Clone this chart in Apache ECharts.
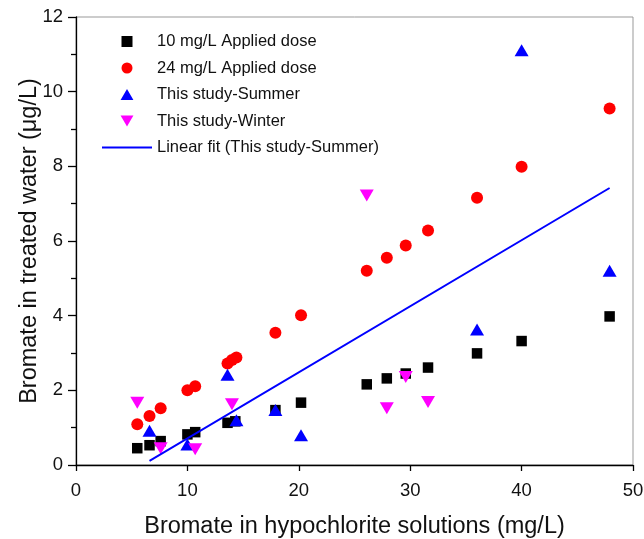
<!DOCTYPE html>
<html>
<head>
<meta charset="utf-8">
<script src="https://cdn.jsdelivr.net/npm/echarts@6/dist/echarts.min.js"></script>
<style>html,body{margin:0;padding:0;background:#fff}#c{width:644px;height:539px}</style>
</head>
<body>
<div id="c"></div>
<script>
// 10 mg/L Applied dose
const dose10X = [5.5, 6.6, 7.6, 10.0, 10.7, 13.6, 14.3, 17.9, 20.2, 26.1, 27.9, 29.6, 31.6, 36.0, 40.0, 47.9];
const dose10Y = [0.45, 0.53, 0.64, 0.82, 0.88, 1.13, 1.17, 1.47, 1.67, 2.16, 2.32, 2.45, 2.61, 2.99, 3.32, 3.98];
// 24 mg/L Applied dose
const dose24X = [5.5, 6.6, 7.6, 10.0, 10.7, 13.6, 14.0, 14.4, 17.9, 20.2, 26.1, 27.9, 29.6, 31.6, 36.0, 40.0, 47.9];
const dose24Y = [1.09, 1.31, 1.52, 2.0, 2.11, 2.72, 2.81, 2.88, 3.54, 4.01, 5.2, 5.55, 5.88, 6.28, 7.16, 7.99, 9.55];
// This study - Summer
const summerX = [6.6, 10.0, 13.6, 14.4, 17.9, 20.2, 36.0, 40.0, 47.9];
const summerY = [0.92, 0.55, 2.42, 1.2, 1.47, 0.8, 3.63, 11.11, 5.2];
// This study - Winter
const winterX = [5.5, 7.6, 10.7, 14.0, 26.1, 27.9, 29.6, 31.6];
const winterY = [1.67, 0.45, 0.42, 1.63, 7.22, 1.52, 2.36, 1.69];
// Linear fit (This study-Summer) endpoints
const fitX = [6.6, 47.9];
const fitY = [0.11, 7.42];

const pairs = (xs, ys) => xs.map((x, i) => [x, ys[i]]);
const font = 'Arial, "Liberation Sans", Helvetica, sans-serif';

const SQUARE = 'path://M0 0H10V10H0Z';
const UP = 'path://M7 0L14 12L0 12Z';
const DOWN = 'path://M0 0L14 0L7 12Z';
const LINE = 'path://M0 0H50V2H0Z';

const chart = echarts.init(document.getElementById('c'));
chart.setOption({
  animation: false,
  backgroundColor: '#fff',
  grid: {
    left: 76, right: 11, top: 17, bottom: 74, show: true, borderColor: '#999', borderWidth: 1,
    containLabel: false, outerBoundsMode: 'none'
  },
  legend: {
    orient: 'vertical', left: 97, top: 28,
    itemWidth: 50, itemHeight: 11, itemGap: 9.5,
    symbolKeepAspect: true,
    textStyle: { fontFamily: font, fontSize: 16.5, color: '#111' },
    data: [
      { name: '10 mg/L Applied dose', icon: SQUARE },
      { name: '24 mg/L Applied dose', icon: 'circle' },
      { name: 'This study-Summer', icon: UP },
      { name: 'This study-Winter', icon: DOWN },
      { name: 'Linear fit (This study-Summer)', icon: LINE }
    ]
  },
  xAxis: {
    type: 'value', min: 0, max: 50, interval: 10,
    name: 'Bromate in hypochlorite solutions (mg/L)',
    nameLocation: 'middle', nameGap: 50, nameMoveOverlap: false,
    nameTextStyle: { fontFamily: font, fontSize: 23.5, color: '#111' },
    axisLine: { lineStyle: { color: '#000', width: 1.3 } },
    axisTick: { show: true, inside: false, length: 6, lineStyle: { color: '#000', width: 1.3 } },
    axisLabel: { fontFamily: font, fontSize: 18.5, color: '#111', margin: 16 },
    splitLine: { show: false }
  },
  yAxis: {
    type: 'value', min: 0, max: 12, interval: 2,
    name: 'Bromate in treated water (\u03bcg/L)',
    nameLocation: 'middle', nameGap: 34, nameMoveOverlap: false,
    nameTextStyle: { fontFamily: font, fontSize: 23.5, color: '#111' },
    axisLine: { show: true, lineStyle: { color: '#000', width: 1.3 } },
    axisTick: { show: true, inside: false, length: 8, lineStyle: { color: '#000', width: 1.3 } },
    minorTick: { show: true, splitNumber: 2, length: 5, lineStyle: { color: '#000', width: 1.3 } },
    axisLabel: { fontFamily: font, fontSize: 18.5, color: '#111', margin: 13 },
    splitLine: { show: false }
  },
  series: [
    {
      name: '10 mg/L Applied dose', type: 'scatter', symbol: SQUARE, symbolSize: 10.5, symbolKeepAspect: true,
      itemStyle: { color: '#000', opacity: 1 }, data: pairs(dose10X, dose10Y), z: 3
    },
    {
      name: '24 mg/L Applied dose', type: 'scatter', symbol: 'circle', symbolSize: 12,
      itemStyle: { color: '#ff0000', opacity: 1 }, data: pairs(dose24X, dose24Y), z: 2
    },
    {
      name: 'This study-Summer', type: 'scatter', symbol: UP, symbolSize: [14, 12],
      itemStyle: { color: '#0000ff', opacity: 1 }, data: pairs(summerX, summerY), z: 4
    },
    {
      name: 'This study-Winter', type: 'scatter', symbol: DOWN, symbolSize: [14, 12],
      itemStyle: { color: '#ff00ff', opacity: 1 }, data: pairs(winterX, winterY), z: 4
    },
    {
      name: 'Linear fit (This study-Summer)', type: 'line', symbol: 'none', showSymbol: false,
      lineStyle: { color: '#0000ff', width: 2 }, itemStyle: { color: '#0000ff' },
      data: pairs(fitX, fitY), z: 5
    }
  ]
});
</script>
</body>
</html>
